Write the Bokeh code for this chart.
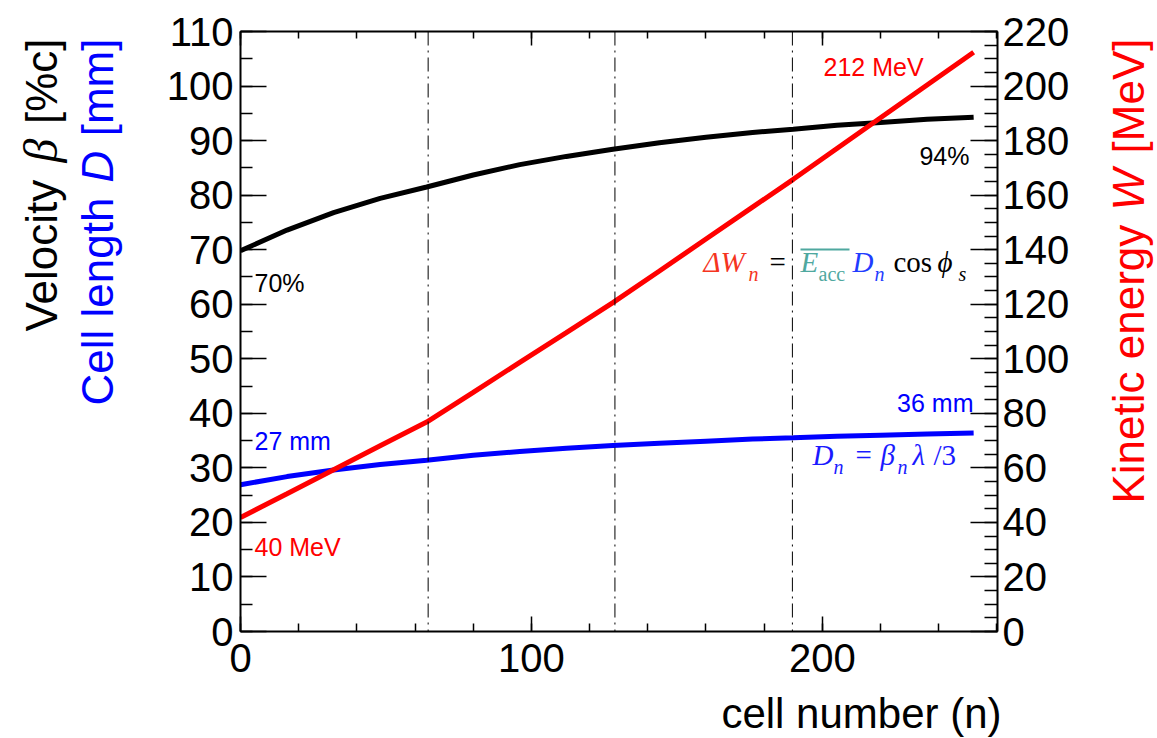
from bokeh.plotting import figure
from bokeh.layouts import row
from bokeh.models import (Range1d, LinearAxis, SingleIntervalTicker, Label, Span,
                          BoxAnnotation, Title)
from bokeh.embed import file_html
from bokeh.resources import INLINE

# ---- data ----
cell_n = [0, 16, 32, 48, 64, 80, 96, 112, 128, 144, 160, 176, 190, 205, 220, 236, 252]
beta_pct = [69.8, 73.6, 76.8, 79.4, 81.5, 83.7, 85.6, 87.1, 88.4, 89.6, 90.6, 91.5, 92.1, 92.8, 93.3, 93.9, 94.3]
cell_len_mm = [26.9, 28.4, 29.6, 30.6, 31.4, 32.3, 33.0, 33.6, 34.1, 34.5, 34.9, 35.3, 35.5, 35.8, 36.0, 36.2, 36.4]
energy_mev = [41.8, 50.5, 59.3, 68.1, 76.8, 87.7, 98.7, 109.6, 120.6, 132.2, 143.9, 155.6, 165.8, 177.1, 188.4, 200.4, 212.4]
tank_edges = [64.5, 128.7, 189.7]

H = 738
LW = 163                    # left canvas width (y titles)
ML, MR = 76, 74             # main canvas borders
FW = 759                    # frame width
MW = ML + FW + MR           # main canvas width
RW = 1157 - LW - MW         # right canvas width (energy title)
L = LW + ML                 # page x of the frame's left edge (239)
FB = 633                    # page y of the frame's bottom edge
KB = 0.38                   # baseline correction factor for labels

SANS = "Liberation Sans"
SERIF = "Liberation Serif"


def blank_fig(width):
    f = figure(width=width, height=H, x_range=Range1d(0, 1), y_range=Range1d(0, 1),
               output_backend="svg", toolbar_location=None,
               x_axis_location=None, y_axis_location=None,
               min_border_left=0, min_border_right=0, min_border_top=0, min_border_bottom=0)
    f.xgrid.visible = False
    f.ygrid.visible = False
    f.outline_line_color = None
    f.background_fill_color = "white"
    f.border_fill_color = "white"
    return f


p = figure(width=MW, height=H, x_range=Range1d(0, 260.2), y_range=Range1d(0, 110),
           output_backend="svg", toolbar_location=None,
           min_border_left=ML, min_border_right=MR, min_border_top=31, min_border_bottom=105)
p.extra_y_ranges = {"W": Range1d(0, 220)}
p.xgrid.visible = False
p.ygrid.visible = False
p.outline_line_color = None
p.background_fill_color = "white"
p.border_fill_color = "white"


def style_axis(ax, ticker, tin, min_in, standoff, show=True):
    ax.ticker = ticker
    ax.axis_line_width = 2
    ax.axis_line_color = "black"
    ax.major_tick_in = tin
    ax.major_tick_out = 0
    ax.minor_tick_in = min_in
    ax.minor_tick_out = 0
    ax.major_tick_line_width = 1.5
    ax.minor_tick_line_width = 1.5
    ax.major_tick_line_color = "black"
    ax.minor_tick_line_color = "black"
    ax.major_label_text_font = SANS
    ax.major_label_text_color = "black"
    ax.major_label_standoff = standoff
    if show:
        ax.major_label_text_font_size = "40px"
    else:
        ax.major_label_text_font_size = "0px"
        ax.major_label_text_color = None
        ax.major_label_standoff = 0


bottom_ax = p.below[0]
left_ax = p.left[0]
style_axis(bottom_ax, SingleIntervalTicker(interval=100, num_minor_ticks=5), 15, 8, 12)
style_axis(left_ax, SingleIntervalTicker(interval=10, num_minor_ticks=2), 26, 12, 7)
# blank spacer between the x tick labels and the x title
bottom_ax.axis_label = " "
bottom_ax.axis_label_text_font_size = "1px"
bottom_ax.axis_label_standoff = 11

right_ax = LinearAxis(y_range_name="W")
style_axis(right_ax, SingleIntervalTicker(interval=20, num_minor_ticks=4), 27, 13, 5)
p.add_layout(right_ax, "right")

top_ax = LinearAxis()
style_axis(top_ax, SingleIntervalTicker(interval=100, num_minor_ticks=5), 14, 7, 0, show=False)
p.add_layout(top_ax, "above")

p.add_layout(Title(text="cell number (n)", align="right", vertical_align="top",
                   offset=-4, standoff=0, text_font=SANS, text_font_size="42px",
                   text_font_style="normal", text_color="black"), "below")

# tank boundaries
for e in tank_edges:
    p.add_layout(Span(location=e, dimension="height", line_color="black",
                      line_width=1, line_dash="14 5 2 5"))

# curves
p.line(cell_n, beta_pct, line_color="black", line_width=5)
p.line(cell_n, cell_len_mm, line_color="#0000ff", line_width=5)
p.line(cell_n, energy_mev, line_color="#ff0000", line_width=5, y_range_name="W")


def lab(fig, frame_left, text, cx, cy, size, color="black", font=SANS, style="normal",
        align="left", angle=0):
    """Place a label by the page position (cx, cy) of its text baseline."""
    if angle:
        cx = cx - KB * size
    else:
        cy = cy - KB * size
    fig.add_layout(Label(x=cx - frame_left, y=FB - cy, x_units="screen", y_units="screen",
                         text=text, text_font=font, text_font_size=f"{size}px",
                         text_color=color, text_font_style=style, text_align=align,
                         text_baseline="alphabetic", angle=angle, angle_units="deg"))


def mlab(text, cx, cy, size, **kw):
    lab(p, L, text, cx, cy, size, **kw)


# value annotations
mlab("70%", 253, 294, 25)
mlab("27 mm", 253, 452, 25, color="#0000ff")
mlab("40 MeV", 253, 558, 25, color="#ff0000")
mlab("94%", 968, 167, 25, align="right")
mlab("36 mm", 972, 414, 25, color="#0000ff", align="right")
mlab("212 MeV", 822, 78, 25, color="#ff0000")

# formula: ΔW_n = Ē_acc D_n cos φ_s
RED2 = "#f5351f"
TEAL = "#4fa89f"
BLUE2 = "#1f3dff"
FS, SS = 29, 20
mlab("ΔW", 702, 275, FS, color=RED2, font=SERIF, style="italic")
mlab("n", 747, 283, SS, color=RED2, font=SERIF, style="italic")
mlab("=", 768, 275, FS, font=SERIF)
mlab("E", 799, 275, FS, color=TEAL, font=SERIF, style="italic")
mlab("acc", 817, 283, SS, color=TEAL, font=SERIF)
p.add_layout(BoxAnnotation(left=799 - L, right=848 - L, top=FB - 250, bottom=FB - 252,
                           left_units="screen", right_units="screen",
                           top_units="screen", bottom_units="screen",
                           fill_color=TEAL, fill_alpha=1, line_color=None))
mlab("D", 851, 275, FS, color=BLUE2, font=SERIF, style="italic")
mlab("n", 873, 283, SS, color=BLUE2, font=SERIF, style="italic")
mlab("cos", 892, 275, FS, font=SERIF)
mlab("ϕ", 936, 275, FS, font=SERIF, style="italic")
mlab("s", 957, 283, SS, font=SERIF, style="italic")

# formula: D_n = β_n λ/3
BLUE3 = "#1a1aff"
mlab("D", 811, 468, FS, color=BLUE3, font=SERIF, style="italic")
mlab("n", 832, 476, SS, color=BLUE3, font=SERIF, style="italic")
mlab("=", 854, 468, FS, color=BLUE3, font=SERIF)
mlab("β", 879, 468, FS, color=BLUE3, font=SERIF, style="italic")
mlab("n", 896, 476, SS, color=BLUE3, font=SERIF, style="italic")
mlab("λ", 911, 468, FS, color=BLUE3, font=SERIF, style="italic")
mlab("/3", 932, 468, FS, color=BLUE3, font=SERIF)

# ---- left canvas: y-axis titles (rotated, read bottom to top) ----
lf = blank_fig(LW)
TS = 44
lab(lf, 0, "Velocity", 58, 333, TS, angle=90)
lab(lf, 0, "β", 58, 164, TS + 4, font=SERIF, style="italic", angle=90)
lab(lf, 0, "[%c]", 58, 40, TS, align="right", angle=90)
lab(lf, 0, "Cell length", 114, 407, TS, color="#0000ff", angle=90)
lab(lf, 0, "D", 114, 184, TS, color="#0000ff", style="italic", angle=90)
lab(lf, 0, "[mm]", 114, 40, TS, color="#0000ff", align="right", angle=90)

# ---- right canvas: energy title ----
rf = blank_fig(RW)
RX = LW + MW  # page x of the right canvas
lab(rf, RX, "Kinetic energy", 1145, 505, TS, color="#ff0000", angle=90)
lab(rf, RX, "W", 1145, 212, TS, color="#ff0000", style="italic", angle=90)
lab(rf, RX, "[MeV]", 1145, 40, TS, color="#ff0000", align="right", angle=90)

layout = row(lf, p, rf, spacing=0)
open("out.html", "w").write(file_html(layout, INLINE))
